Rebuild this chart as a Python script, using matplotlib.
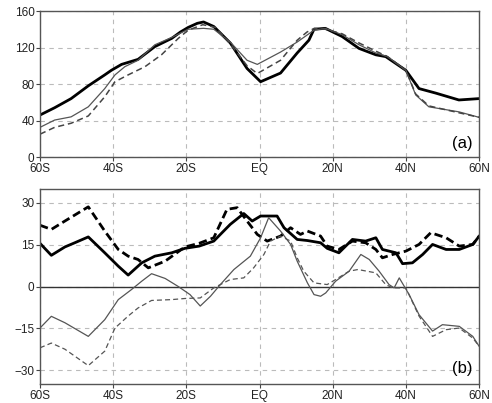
"""Zonal profiles, panels (a) and (b)."""

import matplotlib
matplotlib.use("Agg")
import matplotlib.pyplot as plt
from matplotlib import font_manager

# ---- panel (a) ----
lat_a1 = [-60, -56, -51.5, -46.8, -42.3, -40.5, -37.7, -33.2, -28.6, -24, -21.6, -19.5,
          -17, -15.3, -12.5, -8, -3.4, 0.3, 5.75, 10.3, 13.5, 14.9, 18, 22.6, 27.2, 31.8,
          34.5, 40, 43.6, 48.2, 54.5, 60]
a1 = [46, 54, 64, 78, 90, 95, 101.5, 107, 121, 130, 137, 142,
      146.5, 148, 143, 125, 97, 82.5, 92, 114, 128, 140, 141, 132, 119, 112,
      110, 95, 75, 70, 62.5, 64]

lat_a2 = [-60, -56, -51.5, -46.8, -42.3, -39.5, -36.8, -33.2, -28.6, -24, -19.5, -15.3,
          -12.5, -8, -3.4, -0.6, 5.75, 10.3, 14.9, 18, 22.6, 27.2, 31.8, 35, 40,
          42.7, 46.3, 54.5, 60]
a2 = [32.5, 40.5, 44, 55, 75, 90, 99, 106, 123, 131, 140, 141,
      140, 126, 106, 101.5, 115, 126, 139, 141, 134, 123, 114, 110, 95,
      68, 55, 49.5, 43.5]

lat_a3 = [-60, -56, -51.5, -46.8, -42.3, -39.5, -35.9, -31.3, -26.8, -22.2, -19.5, -15.5,
          -12, -8, -3.4, -0.6, 5.75, 10.3, 13, 15, 18, 22.6, 27.2, 31.8, 35, 40,
          42.7, 46.3, 54.5, 60]
a3 = [25, 32.5, 37, 45, 66, 82.5, 90, 99, 112, 130, 139, 145,
      142, 124, 100, 91.5, 106, 128, 137, 141, 140, 135, 125, 116, 110, 95,
      69, 56, 48.5, 43.5]

# ---- panel (b) ----
lat_b1 = [-60, -56.9, -53.2, -50.5, -46.8, -42.3, -38.6, -35.9, -32.2, -28.6, -24, -20.4,
          -16.5, -12.5, -8, -4.3, -2, 0.3, 4.8, 6.7, 10.3, 13.1, 16.7, 18.5, 21.7, 25.4,
          29, 31.8, 33.6, 37.3, 39.1, 41.8, 44.6, 47.3, 51, 54.6, 58.3, 60]
b1 = [15.5, 11.2, 14.2, 15.7, 17.8, 12.1, 7.3, 4.1, 8.5, 10.9, 12.1, 13.7,
      14.5, 16.3, 22.3, 26.2, 23.5, 25.3, 25.3, 21.1, 16.9, 16.5, 15.7, 13.7, 12.1, 16.9,
      16.3, 17.5, 13.3, 12.1, 8.2, 8.5, 11.5, 15.1, 13.3, 13.3, 15.1, 18]

lat_b2 = [-60, -56.9, -53.2, -46.8, -42.3, -38.6, -35.9, -33.2, -30.4, -25.8, -20.4,
          -16.5, -12.5, -8.9, -6.1, -3.4, -0.6, 2.1, 5.75, 8.5, 11.2, 13.1, 16.7, 18.5, 21.7,
          25.4, 29, 31.8, 33.6, 36.4, 40, 43.6, 46.8, 51, 54.6, 58.3, 60]
b2 = [22, 20.5, 23.5, 28.6, 19.9, 13.3, 10.9, 9.7, 6.7, 9.1, 14.2,
      15.5, 17.5, 27.7, 28.3, 23.5, 18.7, 16.3, 18.1, 21.1, 18.7, 19.9, 18.1, 14.5, 13.3,
      16.3, 15.7, 13.3, 10.3, 11.5, 12.7, 15.1, 19.3, 17.5, 14.5, 15.1, 18]

lat_b3 = [-60, -56.9, -53.2, -46.8, -42.3, -38.6, -35, -32.2, -29.5, -25.8, -22.2, -19,
          -16.2, -13.4, -10.7, -7, -2.5, 0.3, 2.5, 5.75, 8.5, 10.3, 13.1, 14.9, 16.7, 18.1,
          20.8, 24.5, 27.7, 30, 32.7, 35.4, 36.8, 38.2, 40.9, 43.6, 47.3, 50, 54.6, 58.3, 60]
b3 = [-14.9, -10.7, -13, -17.9, -11.9, -4.7, -1.1, 1.9, 4.6, 2.9, 0, -2.9,
      -7, -3.5, 0.7, 6.1, 10.9, 17.5, 24.7, 19.9, 15.1, 9.1, 1.3, -2.9, -3.5, -2.3,
      1.9, 5.5, 11.5, 9.7, 5.5, 0.7, -0.5, 3.1, -2.9, -10.1, -16, -13.7, -14.3, -17.9, -21.4]

lat_b4 = [-60, -56.9, -53.2, -46.8, -42.3, -39.5, -35.9, -33.2, -29.5, -24, -20.4, -16.2,
          -12.5, -8, -4.3, -1.6, 1.2, 3, 5.75, 8.5, 10.3, 12.1, 14.9, 18.5, 20.8, 24.5,
          26.9, 31.8, 34.5, 36.4, 40, 43.6, 47.3, 51, 54.6, 58.3, 60]
b4 = [-22, -20.3, -22.5, -28.4, -23.2, -14.9, -10.6, -7.7, -5, -4.7, -4.3, -4.1,
      -0.5, 2.5, 3.1, 6.7, 11.5, 16.3, 18.1, 16.3, 10.3, 5.5, 1.3, 0.7, 2.5, 5.5,
      6.1, 4.9, 0.7, -0.5, -0.5, -10.6, -17.9, -15.5, -14.9, -18.5, -21.4]

lat_ticks = [-60, -40, -20, 0, 20, 40, 60]
lat_labels = ["60S", "40S", "20S", "EQ", "20N", "40N", "60N"]

names = {f.name for f in font_manager.fontManager.ttflist}
fam = "Liberation Sans Narrow" if "Liberation Sans Narrow" in names else "Liberation Sans"
plt.rcParams["font.family"] = [fam, "DejaVu Sans"]

fig = plt.figure(figsize=(4.92, 4.03), dpi=100)
ax1 = fig.add_axes([0.0813, 0.6104, 0.8923, 0.3623])
ax2 = fig.add_axes([0.0813, 0.0471, 0.8923, 0.4839])

thick = dict(color="black", lw=2.0)
thin = dict(color="#555555", lw=0.9)

ax1.plot(lat_a1, a1, **thick)
ax1.plot(lat_a2, a2, **thin)
ax1.plot(lat_a3, a3, color="#444444", lw=1.1, dashes=(4, 2.5))

ax2.axhline(0, color="#333333", lw=1.0)
ax2.plot(lat_b1, b1, **thick)
ax2.plot(lat_b2, b2, color="black", lw=2.0, dashes=(3, 1.5))
ax2.plot(lat_b3, b3, **thin)
ax2.plot(lat_b4, b4, color="#555555", lw=0.9, dashes=(4, 2.5))

for ax, ylim, yt, tag in [(ax1, (0, 160), [0, 40, 80, 120, 160], "(a)"),
                          (ax2, (-35, 35), [-30, -15, 0, 15, 30], "(b)")]:
    ax.set_xlim(-60, 60)
    ax.set_ylim(*ylim)
    ax.set_xticks(lat_ticks)
    ax.set_xticklabels(lat_labels)
    ax.set_yticks(yt)
    ax.set_yticklabels([str(v).replace("-", "\u2212") for v in yt])
    ax.grid(True, color="#bbbbbb", lw=0.8, dashes=(4, 4))
    ax.tick_params(labelsize=8.5, length=3, width=0.8, color="#444444", labelcolor="#222222")
    ax.tick_params(axis="x", pad=1.5)
    ax.tick_params(axis="y", pad=1)
    for s in ax.spines.values():
        s.set_color("#555555")
        s.set_linewidth(1.0)
    ax.text(0.985, 0.04, tag, transform=ax.transAxes, ha="right", va="bottom", fontsize=12)

fig.savefig("out.png", dpi=100)
